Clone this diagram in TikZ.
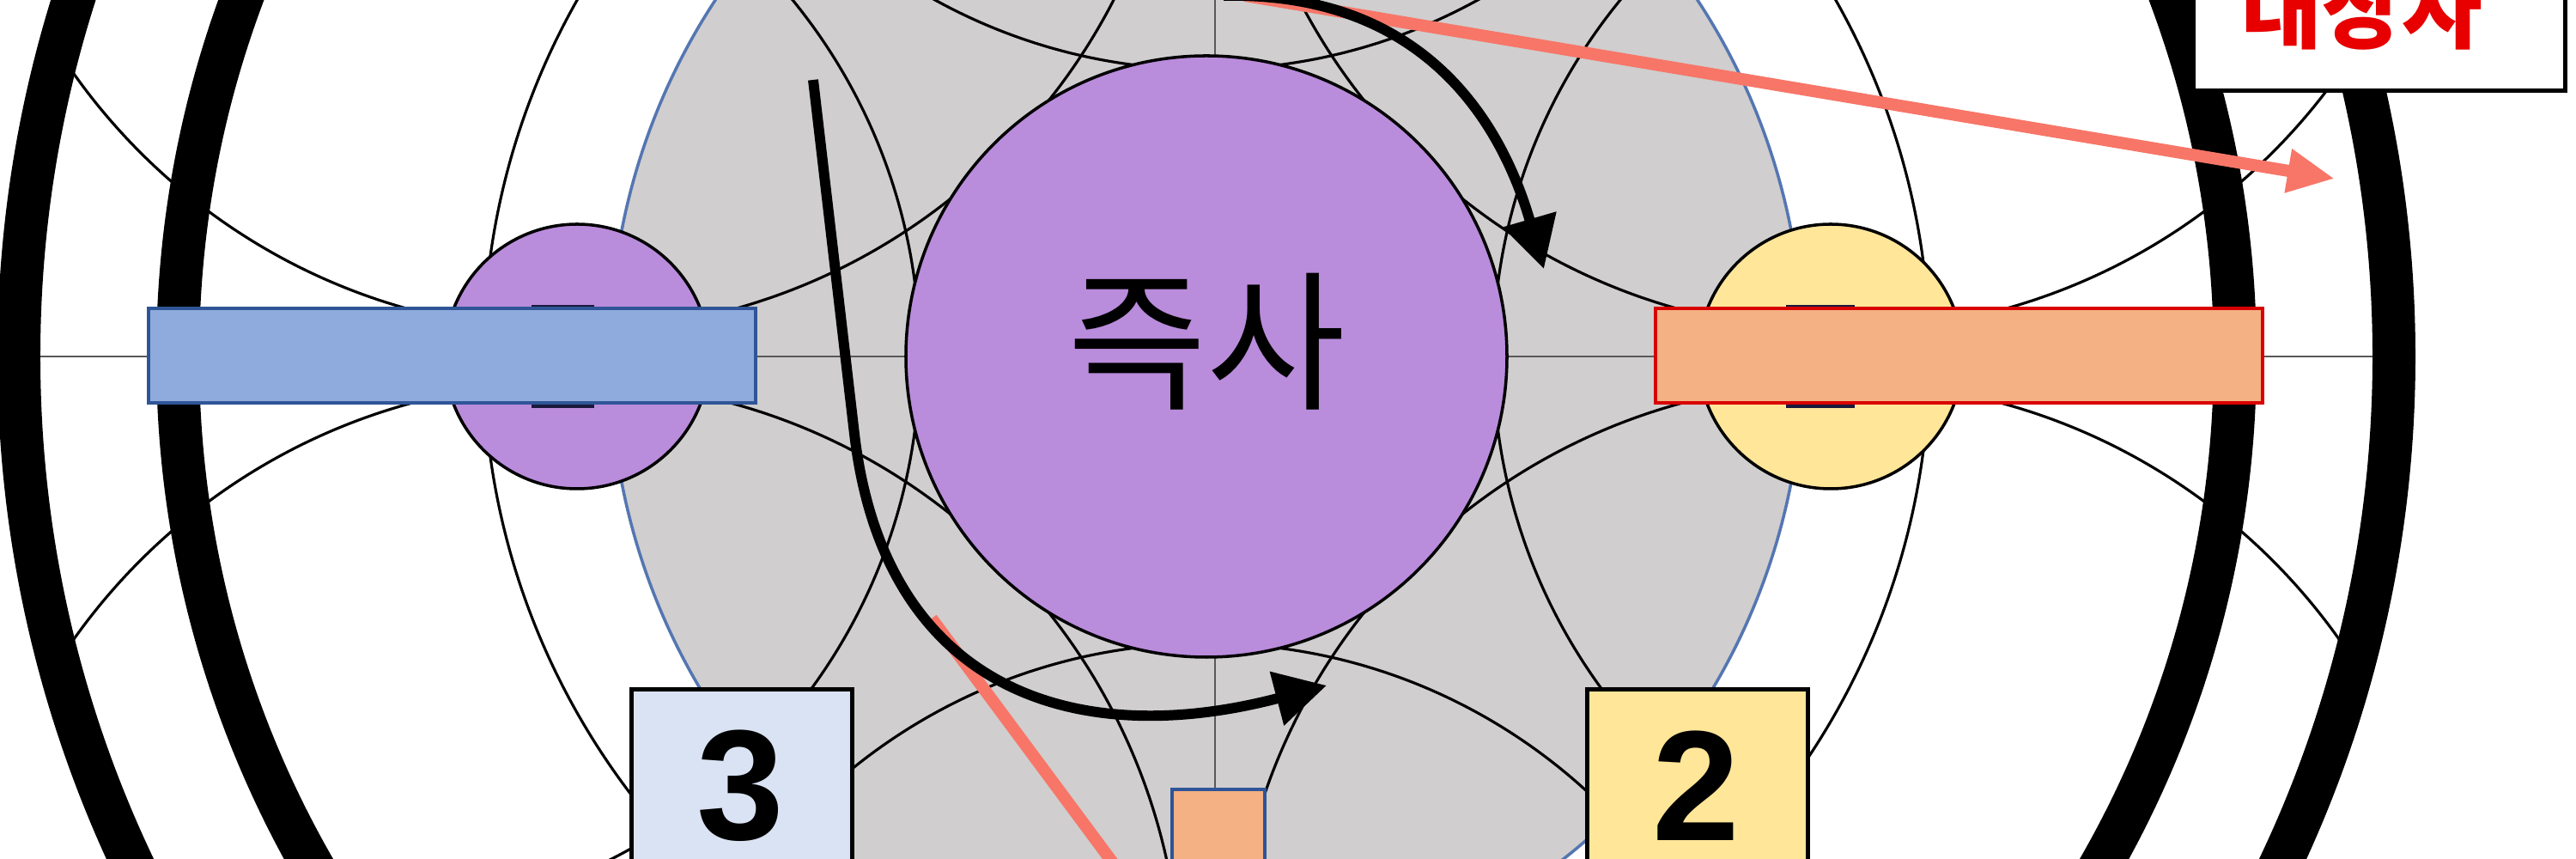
\documentclass[tikz,border=0pt]{standalone}
\usepackage{fontspec}
\setmainfont{Liberation Sans}
\newfontfamily\kofont{Noto Sans CJK KR}
\usepackage{tikz}
\usepackage{xcolor}
\definecolor{board}{RGB}{208,206,206}
\definecolor{boardedge}{RGB}{84,118,178}
\definecolor{boss}{RGB}{186,140,220}
\definecolor{sun}{RGB}{255,230,153}
\definecolor{ice}{RGB}{218,227,243}
\definecolor{bluebar}{RGB}{143,170,220}
\definecolor{bluebarline}{RGB}{47,85,151}
\definecolor{orangebar}{RGB}{244,177,131}
\definecolor{salmon}{RGB}{247,118,104}
\definecolor{alert}{RGB}{232,0,0}
\definecolor{hidden}{RGB}{25,25,60}
\usetikzlibrary{arrows.meta}
\usetikzlibrary{positioning}
\usetikzlibrary{calc}

\begin{document}
\begin{tikzpicture}[
  web/.style={line width=0.9pt},
  axisline/.style={line width=0.6pt, color=black!65},
  ring/.style={line width=0.5cm},
  orb/.style={circle, draw=black, line width=1pt, inner sep=0pt},
  bar/.style={minimum width=7.07cm, minimum height=1.1cm, inner sep=0pt, line width=1pt},
  numbox/.style={draw=black, line width=1.4pt, minimum width=2.57cm, minimum height=2.04cm, inner sep=0pt, anchor=north west},
  digit/.style={font=\fontsize{52}{52}\selectfont\bfseries, inner sep=0pt},
  move/.style={line width=3.4pt, -{Triangle[length=6mm,width=6.2mm]}},
  ray/.style={color=salmon, line width=4pt}
]

\useasboundingbox (-14.05,-5.85) rectangle (15.95,4.15);
\clip (-14.05,-5.85) rectangle (15.95,4.15);
\fill[white] (-14.05,-5.85) rectangle (15.95,4.15);

% floor and guide lines
\filldraw[fill=board, draw=boardedge, line width=1pt] (0,0) ellipse (6.95 and 7.3);

\begin{scope}
\clip (0,0) circle (13.6);
\draw[axisline] (-13.6,0) -- (13.6,0);
\draw[axisline] (0.1,-13.6) -- (0.1,13.6);
\draw[web] (0,0) circle (8.42);
\foreach \a in {0,90,180,270}
  \draw[web] (\a:9.9) circle (6.56);
\foreach \a in {45,135,225,315}
  \draw[web] (\a:10.46) circle (7.1);
\end{scope}

\draw[ring] (0,0) circle (11.98);
\draw[ring] (0,0) circle (13.83);

% boss and side orbs
\node[orb, fill=boss, minimum size=7cm] (boss) at (0,0) {};
\node[font=\kofont\fontsize{50}{50}\selectfont] (bossname) at ([yshift=1.7mm]boss.center) {즉사};

\node[orb, fill=boss, minimum size=3.08cm] (westorb) at (-7.33,0) {};
\node[orb, fill=sun, minimum size=3.08cm] (eastorb) at (7.27,0) {};
\fill[hidden] (-7.86,-0.6) rectangle (-7.13,0.6);
\fill[hidden] (6.75,-0.6) rectangle (7.55,0.6);

\node[bar, draw=bluebarline, fill=bluebar] (westbar) at (-8.785,0.01) {};
\node[bar, draw=red!85!black, fill=orangebar] (eastbar) at (8.765,0.01) {};

\node[numbox, fill=ice] (three) at (-6.72,-3.85) {};
\node[digit] (threelabel) at (-5.43,-5.0) {3};
\node[numbox, fill=sun] (two) at (4.41,-3.85) {};
\node[digit] (twolabel) at (5.70,-5.0) {2};
\node[draw=bluebarline, fill=orangebar, line width=1pt, minimum width=1.08cm, minimum height=1.5cm, inner sep=0pt, anchor=north] (drop) at (0.14,-5.02) {};

% movement
\coordinate (raystart) at (0.45,4.2);
\coordinate (target) at (13.14,2.07);
\coordinate (cutin) at (-3.2,-3.05);
\coordinate (cutout) at (-0.9,-6.15);
\draw[ray, -{Triangle[length=5.5mm,width=4.8mm]}] (raystart) -- (target);
\draw[ray] (cutin) -- (cutout);

\coordinate (spinA) at (0.2,4.2);
\coordinate (spinB) at (3.93,1.02);
\coordinate (sweepA) at (-4.58,3.22);
\coordinate (sweepB) at (1.4,-3.83);
\draw[move] (spinA) .. controls (2.7,4.25) and (3.5,2.5) .. (spinB);
\draw[move] (sweepA) -- (-4.1,-0.9) .. controls (-3.75,-3.88) and (-1.53,-4.6) .. (sweepB);

\node[draw=black, fill=white, line width=1.4pt, minimum width=4.33cm, minimum height=2.2cm, anchor=south west] (tag) at (11.47,3.07) {};
\node[text=alert, font=\kofont\bfseries\fontsize{29}{29}\selectfont] (tagtext) at ([xshift=-2mm,yshift=9.8mm]tag.south) {대상자};

\end{tikzpicture}
\end{document}
